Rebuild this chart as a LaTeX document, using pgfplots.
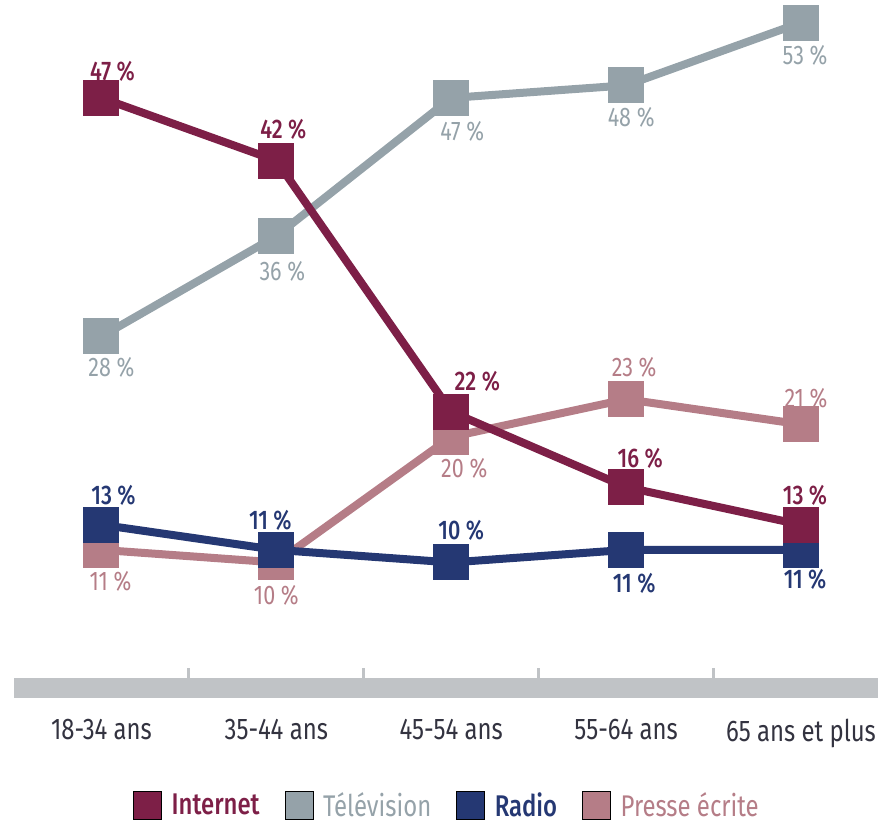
\documentclass[border=0pt]{standalone}
\usepackage{fontspec}
\setmainfont{Fira Sans}[FakeStretch=0.8]
\newfontfamily\medfont{Fira Sans Medium}[FakeStretch=0.8]
\usepackage{pgfplots}
\pgfplotsset{compat=1.18}

\definecolor{cInt}{HTML}{7D1F47}
\definecolor{cTV}{HTML}{95A2A9}
\definecolor{cRad}{HTML}{253873}
\definecolor{cPre}{HTML}{B57D87}
\definecolor{barGray}{HTML}{C0C3C6}
\definecolor{labGray}{HTML}{333340}

\pgfplotsset{
  ser/.style={forget plot, line width=8bp, color=#1, mark=square*, mark size=14bp,
    mark options={draw=none, fill=#1}},
  lab/.style 2 args={forget plot, draw=none,
    visualization depends on={\thisrow{dx} \as \dx},
    visualization depends on={\thisrow{dy} \as \dy},
    nodes near coords={\pgfmathprintnumber{\pgfplotspointmeta} \%},
    nodes near coords style={anchor=center, inner sep=0pt, text=#1,
      font=#2\fontsize{27}{27}\selectfont, xshift=\dx bp, yshift=\dy bp}},
}

\begin{document}
\begin{tikzpicture}
\begin{axis}[
  scale only axis, width=864bp, height=688bp,
  xmin=-0.5, xmax=4.44, ymin=0, ymax=54.8,
  axis x line*=bottom, axis y line=none,
  x axis line style={-, line width=20bp, draw=barGray},
  xtick={0,...,4},
  xticklabels={18-34 ans, 35-44 ans, 45-54 ans, 55-64 ans, 65 ans et plus},
  minor xtick={0.5,1.5,2.5,3.5},
  tick align=inside, major tick length=0pt, minor tick length=20bp,
  minor tick style={line width=3bp, draw=barGray},
  ytick=\empty,
  clip=false,
  /pgf/number format/assume math mode=true,
  xticklabel style={font=\fontsize{30}{30}\selectfont, text=labGray,
    inner sep=0pt, anchor=north, yshift=-31bp},
  legend columns=4,
  legend style={at={(0.5,-0.170)}, anchor=center, draw=none, fill=none,
    inner sep=0pt, font=\fontsize{30}{30}\selectfont, column sep=10bp,
    /tikz/every even column/.append style={column sep=25bp},
    nodes={inner sep=0pt}},
  legend cell align=left,
  legend image code/.code={\fill[#1] (0bp,-14bp) rectangle (28bp,14bp);},
]
\coordinate (TL) at (rel axis cs:0,1);

\addlegendimage{fill=cInt}
\addlegendentry{\textcolor{cInt}{\medfont Internet}}
\addlegendimage{fill=cTV}
\addlegendentry{\textcolor{cTV}{Télévision}}
\addlegendimage{fill=cRad}
\addlegendentry{\textcolor{cRad}{\medfont Radio}}
\addlegendimage{fill=cPre}
\addlegendentry{\textcolor{cPre}{Presse écrite}}

% Télévision
\addplot[ser=cTV] table {
x y
0 28
1 36
2 47
3 48
4 53
};
% Presse écrite
\addplot[ser=cPre] table {
x y
0 11
1 10
2 20
3 23
4 21
};
% Radio
\addplot[ser=cRad] table {
x y
0 13
1 11
2 10
3 11
4 11
};
% Internet
\addplot[ser=cInt] table {
x y
0 47
1 42
2 22
3 16
4 13
};

% valeurs
\addplot[lab={cTV}{}] table {
x y dx dy
0 28 10 -31
1 36 6 -35
2 47 11 -33
3 48 5 -32
4 53 4 -33
};
\addplot[lab={cPre}{}] table {
x y dx dy
0 11 9 -31
1 10 0 -33
2 20 13 -31
3 23 8 32
4 21 5 26
};
\addplot[lab={cRad}{\medfont}] table {
x y dx dy
0 13 12 29
1 11 -6 30
2 10 10 32
3 11 8 -33
4 11 4 -29
};
\addplot[lab={cInt}{\medfont}] table {
x y dx dy
0 47 11 27
1 42 7 31
2 22 26 30
3 16 14 29
4 13 4 29
};
\end{axis}
\pgfresetboundingbox
\path (TL) ++(-14bp,0) rectangle ++(878bp,-823bp);
\end{tikzpicture}
\end{document}
